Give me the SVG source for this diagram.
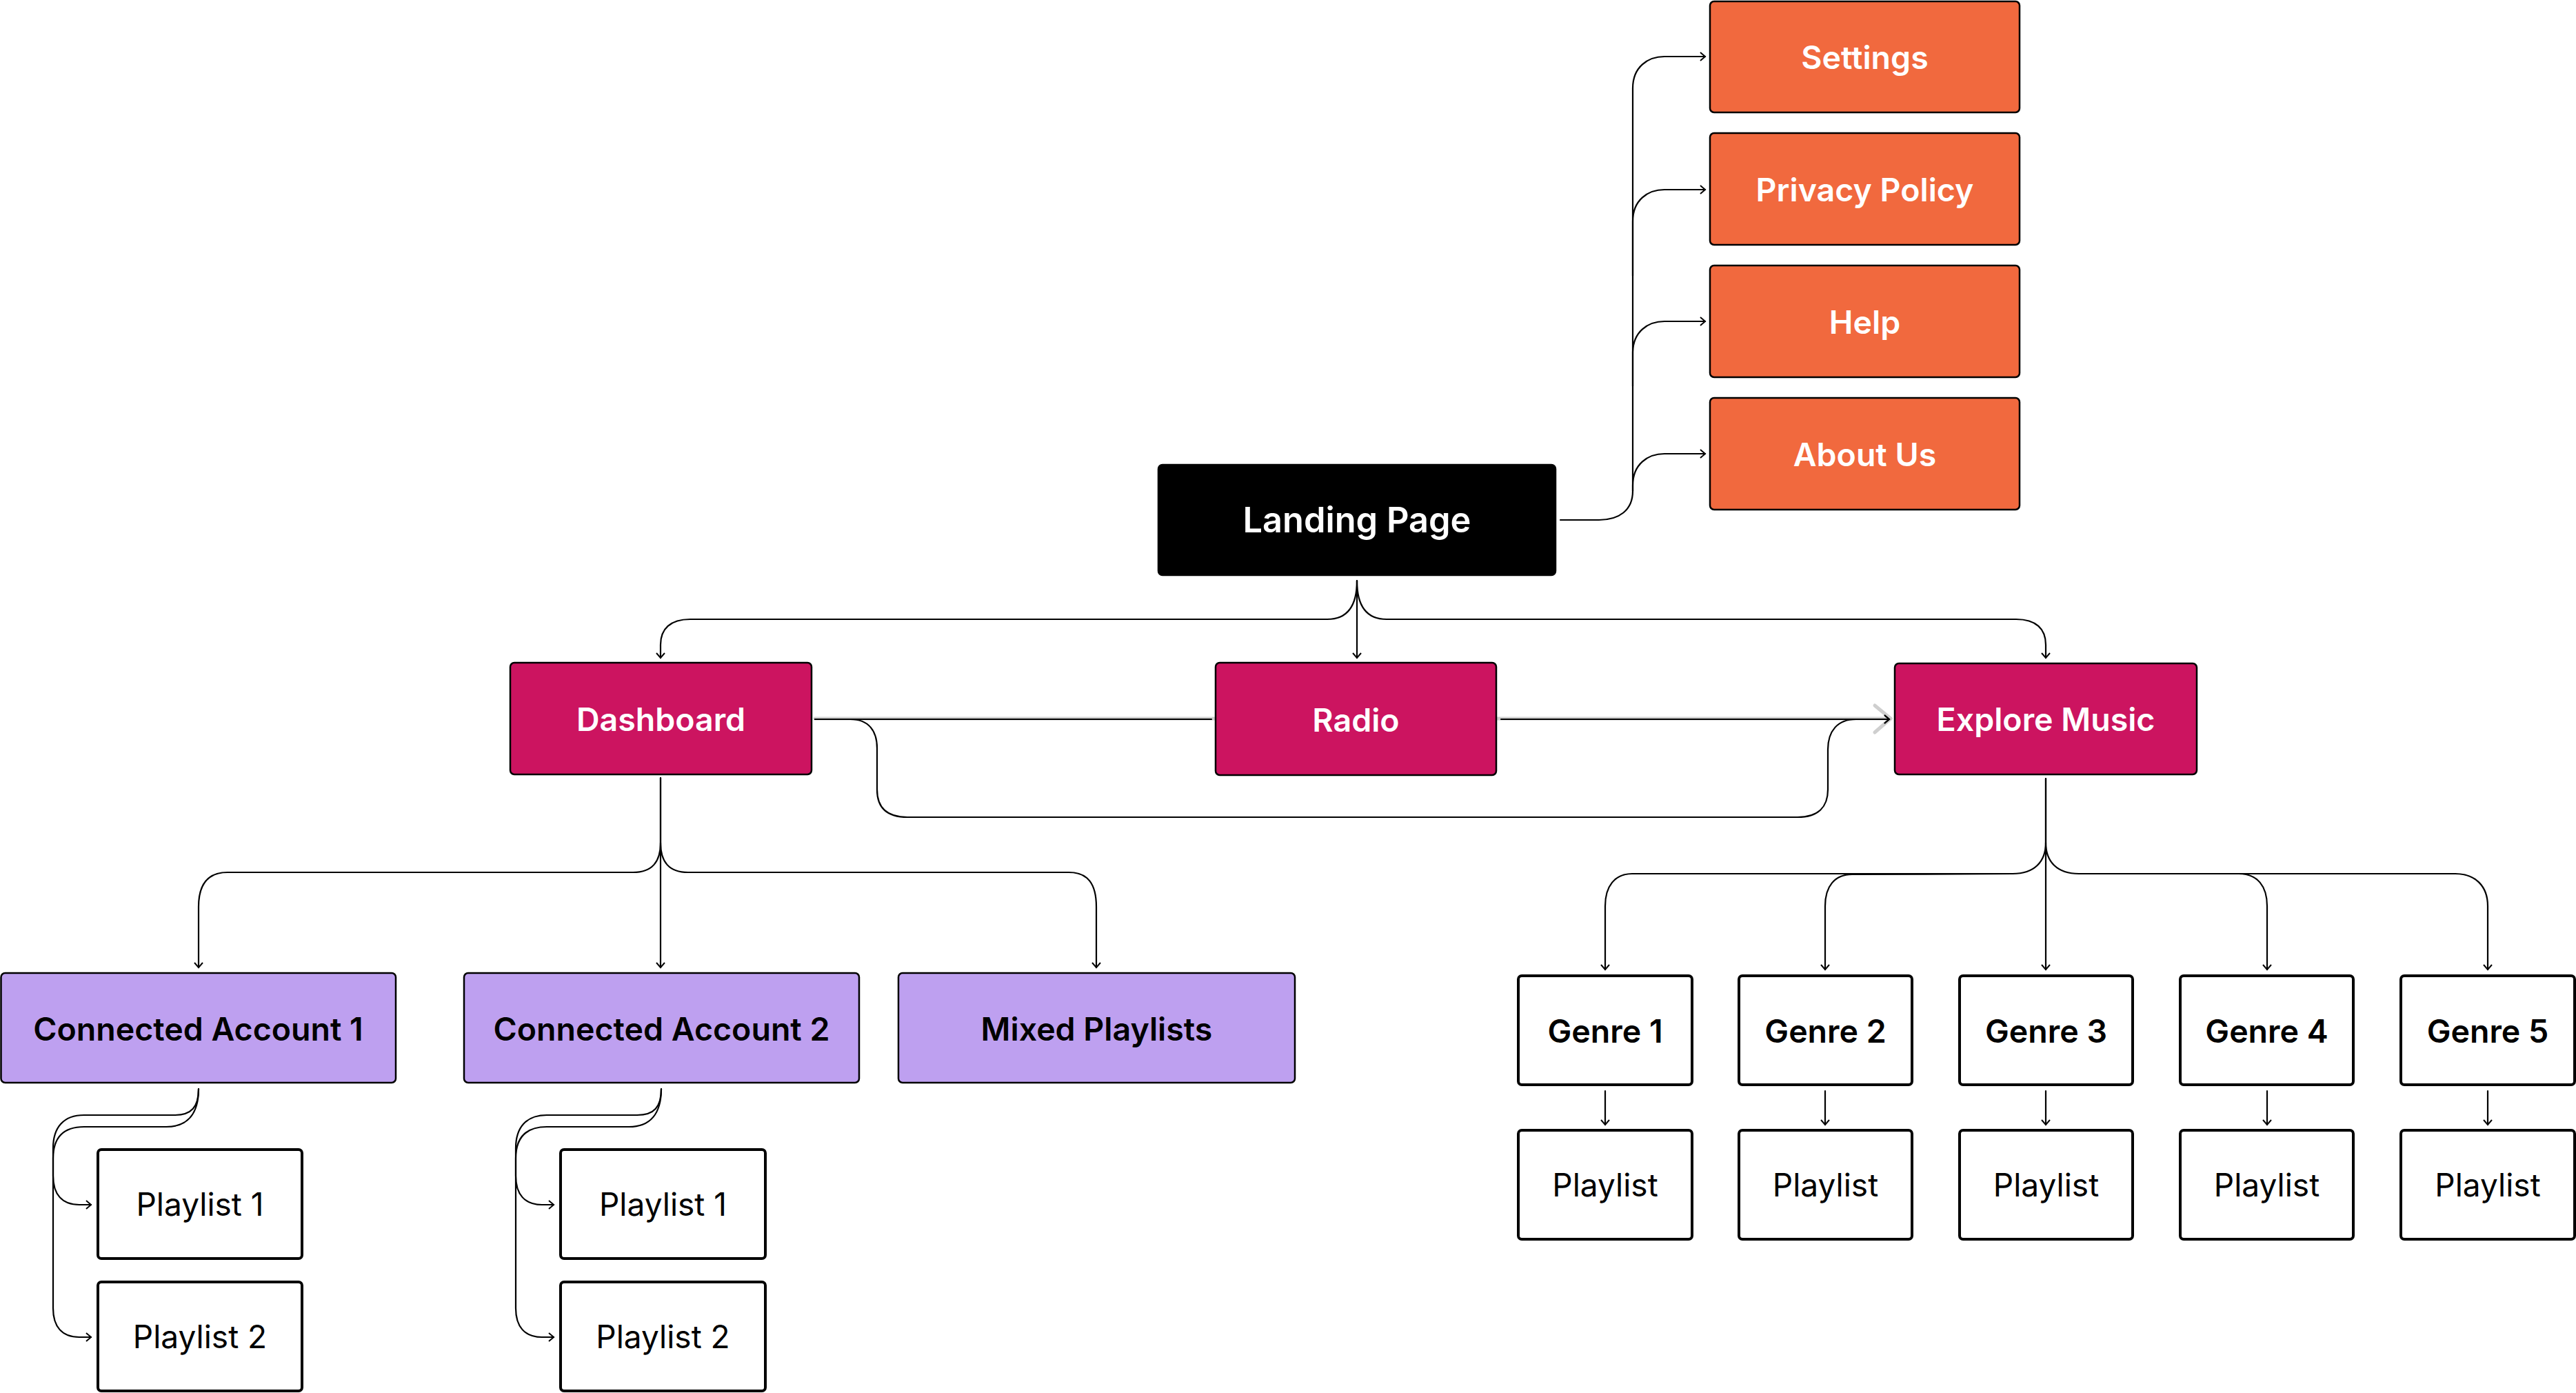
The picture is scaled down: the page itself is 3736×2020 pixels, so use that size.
<svg xmlns="http://www.w3.org/2000/svg" width="3736" height="2020" viewBox="0 0 3736 2020">
<defs>
<style>
.c{fill:none;stroke:#000;stroke-width:2.2;stroke-linecap:round;stroke-linejoin:round}
.a{marker-end:url(#arr)}
.orange{fill:#F1693E;stroke:#000;stroke-width:2.5}
.mag{fill:#CC1460;stroke:#000;stroke-width:2.5}
.pur{fill:#BEA0F0;stroke:#000;stroke-width:2.5}
.blk{fill:#000;stroke:#000;stroke-width:2.5}
.wht{fill:#fff;stroke:#000;stroke-width:4}
text{font-family:Inter,"Noto Sans","Liberation Sans",sans-serif;text-anchor:middle}
.tb{font-size:46.5px;font-weight:600}
.tl{font-size:50.5px;font-weight:600}
.tr{font-size:46px;font-weight:400}
.w{fill:#fff}
.k{fill:#000}
</style>
<marker id="arr" markerUnits="userSpaceOnUse" markerWidth="20" markerHeight="20" viewBox="-10 -10 20 20" refX="0" refY="0" orient="auto">
<path d="M-7,-6 L0,0 L-7,6" fill="none" stroke="#000" stroke-width="2"/>
</marker>
</defs>
<rect width="3736" height="2020" fill="#fff"/>
<g id="connectors">
<path d="M1182 1042 L2742 1042" fill="none" stroke="#CFCFCF" stroke-width="5" stroke-linecap="round"/>
<path d="M2719 1023 L2742 1042 L2719 1062" fill="none" stroke="#CFCFCF" stroke-width="5" stroke-linecap="round" stroke-linejoin="round"/>
<path class="c" d="M1182 1043 L1757 1043"/>
<path class="c a" d="M2177 1043 L2740 1043"/>
<path class="c a" d="M1182 1043 L1233 1043 C1260 1043 1272 1060 1272 1085 L1272 1145 C1272 1170 1285 1185 1316 1185 L2607 1185 C2637 1185 2651 1170 2651 1145 L2651 1087 C2651 1060 2665 1043 2692 1043 L2740 1043"/>
<path class="c a" d="M2263 754 L2319 754 C2348 754 2368 740 2368 712 L2368 128 C2368 97 2390 82 2414 82 L2473 82"/>
<path class="c a" d="M2368 400 L2368 321 C2368 290 2390 275 2414 275 L2473 275"/>
<path class="c a" d="M2368 560 L2368 512 C2368 481 2390 466 2414 466 L2473 466"/>
<path class="c a" d="M2368 712 L2368 704 C2368 673 2390 658 2414 658 L2473 658"/>
<path class="c a" d="M1968 842 C1968 878 1955 898 1925 898 L1001 898 C972 898 958 912 958 935 L958 954"/>
<path class="c a" d="M1968 842 L1968 954"/>
<path class="c a" d="M1968 842 C1968 878 1981 898 2011 898 L2924 898 C2953 898 2967 912 2967 935 L2967 954"/>
<path class="c a" d="M958 1128 L958 1222 C958 1250 946 1265 918 1265 L330 1265 C302 1265 288 1282 288 1315 L288 1403"/>
<path class="c a" d="M958 1128 L958 1403"/>
<path class="c a" d="M958 1222 C958 1250 970 1265 998 1265 L1550 1265 C1578 1265 1590 1282 1590 1315 L1590 1403"/>
<path class="c a" d="M288 1579 C288 1605 278 1617 253 1617 L122 1617 C92 1617 77 1635 77 1665 L77 1705 C77 1732 90 1747 115 1747 L132 1747"/>
<path class="c a" d="M288 1579 C288 1615 272 1634 241 1634 L122 1634 C92 1634 77 1650 77 1680 L77 1897 C77 1924 90 1939 115 1939 L132 1939"/>
<path class="c a" d="M959 1579 C959 1605 949 1617 924 1617 L793 1617 C763 1617 748 1635 748 1665 L748 1705 C748 1732 761 1747 786 1747 L803 1747"/>
<path class="c a" d="M959 1579 C959 1615 943 1634 912 1634 L793 1634 C763 1634 748 1650 748 1680 L748 1897 C748 1924 761 1939 786 1939 L803 1939"/>
<path class="c a" d="M2967 1129 L2967 1222 C2967 1250 2950 1267 2919 1267 L2367 1267 C2342 1267 2328 1285 2328 1314 L2328 1406"/>
<path class="c a" d="M2919 1267 L2686 1268 C2661 1268 2647 1285 2647 1314 L2647 1406"/>
<path class="c a" d="M2967 1129 L2967 1406"/>
<path class="c a" d="M2967 1222 C2967 1250 2984 1267 3015 1267 L3561 1267 C3590 1267 3608 1285 3608 1314 L3608 1406"/>
<path class="c a" d="M3247 1267 C3274 1267 3288 1285 3288 1314 L3288 1406"/>
<path class="c a" d="M2328 1582 L2328 1631"/>
<path class="c a" d="M2647 1582 L2647 1631"/>
<path class="c a" d="M2967 1582 L2967 1631"/>
<path class="c a" d="M3288 1582 L3288 1631"/>
<path class="c a" d="M3608 1582 L3608 1631"/>
</g>
<g id="settings"><rect class="orange" x="2480" y="2" width="449" height="161" rx="6"/><text class="tb w" x="2704.5" y="100">Settings</text></g>
<g id="privacy"><rect class="orange" x="2480" y="193" width="449" height="162" rx="6"/><text class="tb w" x="2704.5" y="292">Privacy Policy</text></g>
<g id="help"><rect class="orange" x="2480" y="385" width="449" height="162" rx="6"/><text class="tb w" x="2704.5" y="484">Help</text></g>
<g id="about"><rect class="orange" x="2480" y="577" width="449" height="162" rx="6"/><text class="tb w" x="2704.5" y="676">About Us</text></g>
<g id="landing"><rect class="blk" x="1680" y="674" width="576" height="160" rx="6"/><text class="tl w" x="1968" y="772">Landing Page</text></g>
<g id="dashboard"><rect class="mag" x="740" y="961" width="437" height="162" rx="6"/><text class="tb w" x="958.5" y="1060">Dashboard</text></g>
<g id="radio"><rect class="mag" x="1763" y="961" width="407" height="163" rx="6"/><text class="tb w" x="1966.5" y="1061">Radio</text></g>
<g id="explore"><rect class="mag" x="2748" y="962" width="438" height="161" rx="6"/><text class="tb w" x="2967" y="1060">Explore Music</text></g>
<g id="ca1"><rect class="pur" x="1.5" y="1411" width="572.5" height="159" rx="6"/><text class="tb k" x="287.5" y="1509">Connected Account 1</text></g>
<g id="ca2"><rect class="pur" x="673" y="1411" width="573" height="159" rx="6"/><text class="tb k" x="959.5" y="1509">Connected Account 2</text></g>
<g id="mixed"><rect class="pur" x="1303" y="1411" width="575" height="159" rx="6"/><text class="tb k" x="1590.5" y="1509">Mixed Playlists</text></g>
<g id="ca1-p1"><rect class="wht" x="142" y="1667" width="296" height="158" rx="5"/><text class="tr k" x="290" y="1763">Playlist 1</text></g>
<g id="ca1-p2"><rect class="wht" x="142" y="1859" width="296" height="158" rx="5"/><text class="tr k" x="290" y="1955">Playlist 2</text></g>
<g id="ca2-p1"><rect class="wht" x="813" y="1667" width="297" height="158" rx="5"/><text class="tr k" x="961.5" y="1763">Playlist 1</text></g>
<g id="ca2-p2"><rect class="wht" x="813" y="1859" width="297" height="158" rx="5"/><text class="tr k" x="961.5" y="1955">Playlist 2</text></g>
<g id="genre1"><rect class="wht" x="2202" y="1415" width="252" height="158" rx="5"/><text class="tb k" x="2328" y="1512">Genre 1</text></g>
<g id="genre2"><rect class="wht" x="2522" y="1415" width="251" height="158" rx="5"/><text class="tb k" x="2647.5" y="1512">Genre 2</text></g>
<g id="genre3"><rect class="wht" x="2842" y="1415" width="251" height="158" rx="5"/><text class="tb k" x="2967.5" y="1512">Genre 3</text></g>
<g id="genre4"><rect class="wht" x="3162" y="1415" width="251" height="158" rx="5"/><text class="tb k" x="3287.5" y="1512">Genre 4</text></g>
<g id="genre5"><rect class="wht" x="3482" y="1415" width="252" height="158" rx="5"/><text class="tb k" x="3608" y="1512">Genre 5</text></g>
<g id="g1-playlist"><rect class="wht" x="2202" y="1639" width="252" height="158" rx="5"/><text class="tr k" x="2328" y="1735">Playlist</text></g>
<g id="g2-playlist"><rect class="wht" x="2522" y="1639" width="251" height="158" rx="5"/><text class="tr k" x="2647.5" y="1735">Playlist</text></g>
<g id="g3-playlist"><rect class="wht" x="2842" y="1639" width="251" height="158" rx="5"/><text class="tr k" x="2967.5" y="1735">Playlist</text></g>
<g id="g4-playlist"><rect class="wht" x="3162" y="1639" width="251" height="158" rx="5"/><text class="tr k" x="3287.5" y="1735">Playlist</text></g>
<g id="g5-playlist"><rect class="wht" x="3482" y="1639" width="252" height="158" rx="5"/><text class="tr k" x="3608" y="1735">Playlist</text></g>
</svg>
